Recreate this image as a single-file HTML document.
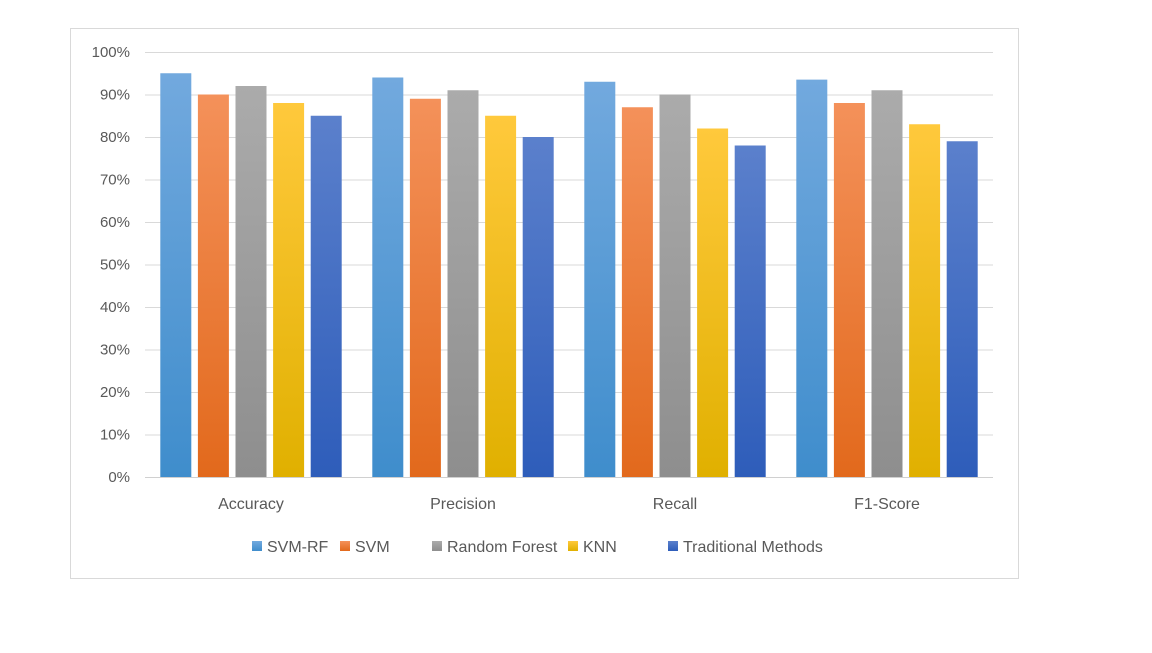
<!DOCTYPE html>
<html><head><meta charset="utf-8"><style>
body{margin:0;width:1152px;height:648px;background:#fff;overflow:hidden;font-family:"Liberation Sans",sans-serif}
</style></head><body>
<svg width="1152" height="648">
<defs>
<linearGradient id="g0" x1="0" y1="0" x2="0" y2="1"><stop offset="0" stop-color="#72a9de"/><stop offset="1" stop-color="#3f8dcc"/></linearGradient>
<linearGradient id="g1" x1="0" y1="0" x2="0" y2="1"><stop offset="0" stop-color="#f4915a"/><stop offset="1" stop-color="#e2691c"/></linearGradient>
<linearGradient id="g2" x1="0" y1="0" x2="0" y2="1"><stop offset="0" stop-color="#ababab"/><stop offset="1" stop-color="#8e8e8e"/></linearGradient>
<linearGradient id="g3" x1="0" y1="0" x2="0" y2="1"><stop offset="0" stop-color="#ffc93c"/><stop offset="1" stop-color="#e0b000"/></linearGradient>
<linearGradient id="g4" x1="0" y1="0" x2="0" y2="1"><stop offset="0" stop-color="#5b80cc"/><stop offset="1" stop-color="#2e5dba"/></linearGradient>
</defs>
<rect x="70.5" y="28.5" width="948" height="550" fill="#fff" stroke="#d9d9d9"/>
<g id="grid"></g><g id="bars"></g><g id="xlabels"></g><g id="legend"></g>
</svg>
<script>
const categories=["Accuracy","Precision","Recall","F1-Score"];
const seriesNames=["SVM-RF","SVM","Random Forest","KNN","Traditional Methods"];
const svmRf=[95,94,93,93.5];
const svm=[90,89,87,88];
const randomForest=[92,91,90,91];
const knn=[88,85,82,83];
const traditional=[85,80,78,79];
const yTicks=[0,10,20,30,40,50,60,70,80,90,100];
const series=[svmRf,svm,randomForest,knn,traditional];
const NS="http://www.w3.org/2000/svg";
const x0=145,x1=993,y0=477,y1=52;
const yS=v=>y0-(v/100)*(y0-y1);
const catW=(x1-x0)/categories.length;
function mk(t,a,p,txt){const e=document.createElementNS(NS,t);for(const k in a)e.setAttribute(k,a[k]);if(txt!==undefined)e.textContent=txt;p.appendChild(e);return e;}
const grid=document.getElementById('grid');
yTicks.forEach(v=>{
 const l=mk('line',{x1:x0,x2:x1,y1:yS(v)+0.5,y2:yS(v)+0.5,stroke:v===0?'#d0d0d0':'#d9d9d9','stroke-width':1},grid);
 
 
 const t=mk('text',{x:130,y:yS(v)+5,'text-anchor':'end','font-size':15,fill:'#595959'},grid,v+'%');
 
 
});
const bars=document.getElementById('bars'),xl=document.getElementById('xlabels');
const bw=31,step=37.6;
categories.forEach((c,ci)=>{
 const cx=x0+catW*(ci+0.5);
 const start=cx-(step*4+bw)/2;
 series.forEach((s,si)=>{
  const r=mk('rect',{x:start+si*step,y:yS(s[ci]),width:bw,height:y0-yS(s[ci]),fill:'url(#g'+si+')'},bars);
  
  
 });
 const t=mk('text',{x:cx,y:509,'text-anchor':'middle','font-size':16,fill:'#595959'},xl,c);
 
 
});
const lg=document.getElementById('legend');
const lx=[252,340,432,568,668];
seriesNames.forEach((n,i)=>{
 const r=mk('rect',{x:lx[i],y:541,width:10,height:10,fill:'url(#g'+i+')'},lg);
 
 
 const t=mk('text',{x:lx[i]+15,y:552,'font-size':16,fill:'#595959'},lg,n);
 
 
});
</script>
</body></html>
